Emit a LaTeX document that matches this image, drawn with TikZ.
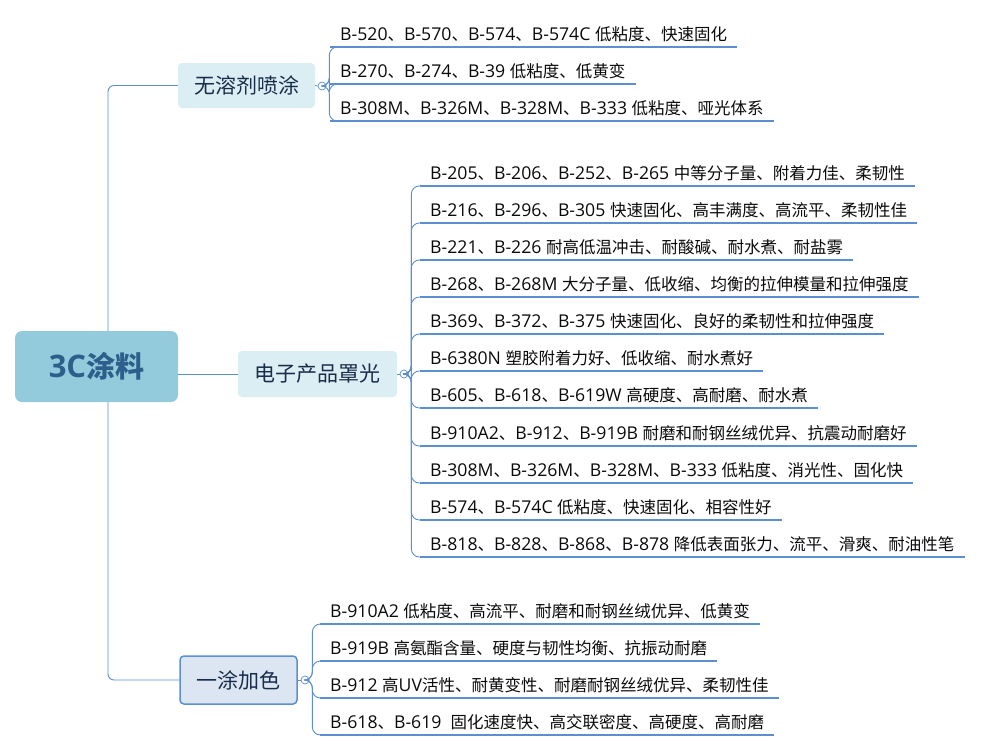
\documentclass[tikz,border=0pt]{standalone}
\usepackage{fontspec}
\setmainfont[Scale=1.07]{Open Sans}
\newfontfamily\cjk{Noto Sans CJK SC}
\XeTeXinterchartokenstate=1
\newXeTeXintercharclass\cjkclass
\makeatletter
\newcount\my@c
\def\my@setrange#1#2{\my@c=#1\relax\loop\XeTeXcharclass\my@c=\cjkclass\advance\my@c by 1\relax\ifnum\my@c<#2\repeat}
\my@setrange{"3000}{"3040}
\my@setrange{"4E00}{"A000}
\my@setrange{"FF00}{"FFF0}
\makeatother
\XeTeXinterchartoks 0 \cjkclass = {\begingroup\cjk}
\XeTeXinterchartoks 4095 \cjkclass = {\begingroup\cjk}
\XeTeXinterchartoks \cjkclass 0 = {\endgroup}
\XeTeXinterchartoks \cjkclass 4095 = {\endgroup}
\begin{document}
\begin{tikzpicture}[x=1pt,y=-1pt,
  ul/.style={line width=2.4pt, color={rgb,255:red,91;green,143;blue,208}},
  leaf/.style={anchor=south west, inner xsep=10pt, inner ysep=5pt, font=\fontsize{16.5}{19}\selectfont, text={rgb,255:red,10;green,10;blue,10}},
  circ/.style={circle, draw={rgb,255:red,91;green,143;blue,208}, fill=white, line width=0.7pt, minimum size=8pt, inner sep=0pt},
  br/.style={rounded corners=4pt, font=\fontsize{21}{24}\selectfont, text={rgb,255:red,25;green,45;blue,75}, inner sep=0pt}
]
\useasboundingbox (0,0) rectangle (997,753);
\definecolor{lc}{RGB}{91,143,208}
% root
\node[rounded corners=7pt, fill={rgb,255:red,147;green,203;blue,220}, minimum width=163pt, minimum height=71pt, font=\fontsize{29}{32}\selectfont\bfseries, text={rgb,255:red,46;green,95;blue,138}] (root) at (96.5,366.5) {3C涂料};
% branches
\node[br, fill={rgb,255:red,218;green,238;blue,243}, minimum width=137pt, minimum height=45pt] (b1) at (246.5,85.5) {无溶剂喷涂};
\node[br, fill={rgb,255:red,218;green,238;blue,243}, minimum width=159pt, minimum height=46pt] (b2) at (317.5,374) {电子产品罩光};
\node[br, fill={rgb,255:red,220;green,230;blue,242}, draw=lc, line width=1.5pt, minimum width=117pt, minimum height=48pt] (b3) at (238.5,680) {一涂加色};
\coordinate (rt) at (108,331);
\coordinate (rb) at (108,402);
\draw[lc, line width=0.9pt, rounded corners=6pt] (rt) |- (b1.west);
\draw[lc, line width=0.9pt, rounded corners=6pt] (rb) |- (b3.west);
\draw[lc, line width=0.9pt] (root.east |- b2.west) -- (b2.west);
\node[circ] (c1) at (322,86) {};
\node[circ] (c2) at (404,374) {};
\node[circ] (c3) at (305,680) {};
\draw[lc, line width=0.9pt] (b1.east) -- (c1.west);
\draw[lc, line width=0.9pt] (b2.east) -- (c2.west);
\draw[lc, line width=0.9pt] (b3.east) -- (c3.west);
% leaves group 1
\foreach \i/\y/\t in {1/47/{B-520、B-570、B-574、B-574C 低粘度、快速固化},
 2/84/{B-270、B-274、B-39 低粘度、低黄变},
 3/121/{B-308M、B-326M、B-328M、B-333 低粘度、哑光体系}}{
  \node[leaf] (a\i) at (330,\y) {\t};
  \draw[ul] (a\i.south west) -- (a\i.south east);
  \draw[lc, line width=0.9pt, rounded corners=8pt] (c1.east) -- ++(3,0) |- (a\i.south west);
}
% leaves group 2
\foreach \i/\y/\t in {1/186/{B-205、B-206、B-252、B-265 中等分子量、附着力佳、柔韧性},
 2/223/{B-216、B-296、B-305 快速固化、高丰满度、高流平、柔韧性佳},
 3/260/{B-221、B-226 耐高低温冲击、耐酸碱、耐水煮、耐盐雾},
 4/297/{B-268、B-268M 大分子量、低收缩、均衡的拉伸模量和拉伸强度},
 5/334/{B-369、B-372、B-375 快速固化、良好的柔韧性和拉伸强度},
 6/371/{B-6380N 塑胶附着力好、低收缩、耐水煮好},
 7/408/{B-605、B-618、B-619W 高硬度、高耐磨、耐水煮},
 8/446/{B-910A2、B-912、B-919B 耐磨和耐钢丝绒优异、抗震动耐磨好},
 9/483/{B-308M、B-326M、B-328M、B-333 低粘度、消光性、固化快},
 10/520/{B-574、B-574C 低粘度、快速固化、相容性好},
 11/557/{B-818、B-828、B-868、B-878 降低表面张力、流平、滑爽、耐油性笔}}{
  \node[leaf] (e\i) at (420,\y) {\t};
  \draw[ul] (e\i.south west) -- (e\i.south east);
  \draw[lc, line width=0.9pt, rounded corners=8pt] (c2.east) -- ++(3,0) |- (e\i.south west);
}
% leaves group 3
\foreach \i/\y/\t in {1/624/{B-910A2 低粘度、高流平、耐磨和耐钢丝绒优异、低黄变},
 2/661/{B-919B 高氨酯含量、硬度与韧性均衡、抗振动耐磨},
 3/698/{B-912 高UV活性、耐黄变性、耐磨耐钢丝绒优异、柔韧性佳},
 4/735/{B-618、B-619\ \ 固化速度快、高交联密度、高硬度、高耐磨}}{
  \node[leaf] (f\i) at (320,\y) {\t};
  \draw[ul] (f\i.south west) -- (f\i.south east);
  \draw[lc, line width=0.9pt, rounded corners=8pt] (c3.east) -- ++(3,0) |- (f\i.south west);
}
\end{tikzpicture}
\end{document}
